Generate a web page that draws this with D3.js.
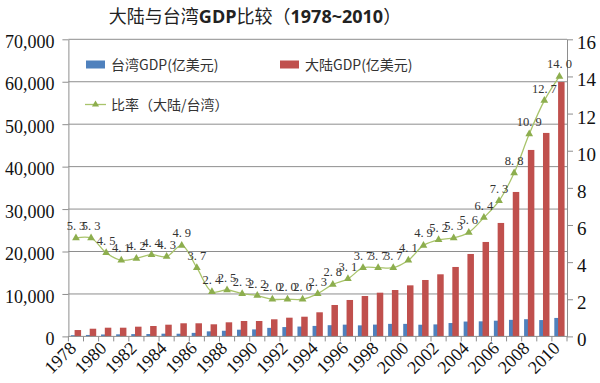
<!DOCTYPE html>
<html><head><meta charset="utf-8">
<script src="https://cdn.jsdelivr.net/npm/d3@7/dist/d3.min.js"></script>
<style>body{margin:0;background:#fff}svg{display:block}</style>
</head><body>
<svg id="c" width="600" height="383"></svg>
<script>
const years = [1978,1979,1980,1981,1982,1983,1984,1985,1986,1987,1988,1989,1990,1991,1992,1993,1994,1995,1996,1997,1998,1999,2000,2001,2002,2003,2004,2005,2006,2007,2008,2009,2010];
const taiwanGDP = [280,340,450,490,540,560,640,630,830,1190,1330,1580,1650,2010,2200,2320,2470,2640,2770,2600,2780,2950,2950,2750,2830,3150,3500,3550,3700,3900,4050,3850,4350];
const mainlandGDP = [1500,1810,2050,2050,2290,2450,2760,3090,3090,2850,3320,3630,3630,4030,4410,4640,5680,7400,8580,9520,10300,10930,12030,13290,14630,16360,19420,22250,26730,34030,43930,47940,59930];
const ratio = [5.3,5.3,4.5,4.1,4.2,4.4,4.3,4.9,3.7,2.4,2.5,2.3,2.2,2.0,2.0,2.0,2.3,2.8,3.1,3.7,3.7,3.7,4.1,4.9,5.2,5.3,5.6,6.4,7.3,8.8,10.9,12.7,14.0];
const leftTicks = [0,10000,20000,30000,40000,50000,60000,70000];
const rightTicks = [0,2,4,6,8,10,12,14,16];
const xTickLabels = ["1978","1980","1982","1984","1986","1988","1990","1992","1994","1996","1998","2000","2002","2004","2006","2008","2010"];
const seriesNames = ["台湾GDP(亿美元)","大陆GDP(亿美元)","比率（大陆/台湾）"];

const C_TW = "#4F81BD", C_CN = "#C0504D", C_LINE = "#A9C46B", C_MARK = "#8DAE4E";
const GRID = "#8e8e8e";
const SERIF = "'Liberation Serif','DejaVu Serif',serif";
const CJK = "'Noto Sans CJK SC','Noto Sans',sans-serif";

const svg = d3.select("#c");
const L = 68.4, R = 567, T = 39.3, B = 336.4;
const x = d3.scaleBand().domain(years).range([L, R]).paddingInner(0).paddingOuter(0);
const yL = d3.scaleLinear().domain([0, 70000]).range([B, T]);
const yR = d3.scaleLinear().domain([0, 16]).range([B, T]);
const bw = x.bandwidth();

// Title
const title = svg.append("text").attr("x", 255).attr("y", 23).attr("text-anchor", "middle")
  .attr("font-size", 18).attr("fill", "#222");
title.append("tspan").attr("font-family", CJK).attr("font-weight", 400).text("大陆与台湾");
title.append("tspan").attr("font-family", "'Open Sans','Liberation Sans',sans-serif").attr("font-weight", 700).text("GDP");
title.append("tspan").attr("font-family", CJK).attr("font-weight", 400).text("比较（");
title.append("tspan").attr("font-family", "'Open Sans','Liberation Sans',sans-serif").attr("font-weight", 700).text("1978~2010");
title.append("tspan").attr("font-family", CJK).attr("font-weight", 400).text("）");

// Gridlines
svg.append("g").selectAll("line").data(leftTicks.filter(v => v > 0)).join("line")
  .attr("x1", L).attr("x2", R).attr("y1", d => yL(d)).attr("y2", d => yL(d))
  .attr("stroke", GRID).attr("stroke-width", 1);

// Left axis
const gl = svg.append("g").attr("transform", `translate(${L},0)`)
  .call(d3.axisLeft(yL).tickValues(leftTicks).tickFormat(d3.format(",")).tickSize(6).tickSizeOuter(0).tickPadding(8));
gl.selectAll("path,line").attr("stroke", GRID);
gl.selectAll("text").attr("font-family", SERIF).attr("font-size", 18).attr("fill", "#111").attr("dy", "0.45em");

// Right axis
const gr = svg.append("g").attr("transform", `translate(${R},0)`)
  .call(d3.axisRight(yR).tickValues(rightTicks).tickSize(6).tickSizeOuter(0).tickPadding(4));
gr.selectAll("path,line").attr("stroke", GRID);
gr.selectAll("text").attr("font-family", SERIF).attr("font-size", 19).attr("fill", "#111").attr("dy", "0.5em");

// Bars
const barW = bw * 0.43;
svg.append("g").selectAll("rect").data(years).join("rect")
  .attr("x", (d) => x(d) + bw * 0.16).attr("width", barW)
  .attr("y", (d, i) => yL(taiwanGDP[i])).attr("height", (d, i) => B - yL(taiwanGDP[i]))
  .attr("fill", C_TW);
svg.append("g").selectAll("rect").data(years).join("rect")
  .attr("x", (d) => x(d) + bw * 0.41).attr("width", barW)
  .attr("y", (d, i) => yL(mainlandGDP[i])).attr("height", (d, i) => B - yL(mainlandGDP[i]))
  .attr("fill", C_CN);

// X axis line and ticks
svg.append("line").attr("x1", L).attr("x2", R).attr("y1", B).attr("y2", B).attr("stroke", GRID);
const bounds = years.map(d => x(d)).concat([x.range()[1]]);
svg.append("g").selectAll("line").data(bounds).join("line")
  .attr("x1", d => d).attr("x2", d => d).attr("y1", B).attr("y2", B + 5).attr("stroke", GRID);
svg.append("g").selectAll("text").data(xTickLabels).join("text")
  .attr("transform", d => `translate(${x(+d)},${B + 4}) rotate(-45)`)
  .attr("text-anchor", "end").attr("dy", "0.7em")
  .attr("font-family", SERIF).attr("font-size", 18).attr("fill", "#111")
  .text(d => d);

// Ratio line
const pts = years.map((d, i) => [x(d) + bw / 2, yR(ratio[i])]);
svg.append("path").attr("d", d3.line().curve(d3.curveCatmullRom.alpha(0.5))(pts))
  .attr("fill", "none").attr("stroke", C_LINE).attr("stroke-width", 1.3);
svg.append("g").selectAll("path").data(pts).join("path")
  .attr("transform", d => `translate(${d[0]},${d[1]})`)
  .attr("d", d3.symbol(d3.symbolTriangle, 26)())
  .attr("fill", C_MARK);

// Ratio labels
const lab = svg.append("g").selectAll("text").data(years).join("text")
  .attr("x", (d) => x(d) + bw / 2).attr("y", (d, i) => yR(ratio[i]) - 8)
  .attr("text-anchor", "middle").attr("font-family", SERIF).attr("font-size", 12.5).attr("fill", "#333");
lab.each(function (d, i) {
  const s = d3.format(".1f")(ratio[i]).split(".");
  const t = d3.select(this);
  t.append("tspan").text(s[0] + ".");
  t.append("tspan").attr("dx", 3).text(s[1]);
});

// Legend
const lg = svg.append("g").attr("font-family", CJK).attr("font-size", 14).attr("fill", "#333");
lg.append("rect").attr("x", 86).attr("y", 60.5).attr("width", 19).attr("height", 8).attr("fill", C_TW);
lg.append("text").attr("x", 111).attr("y", 70).text(seriesNames[0]);
lg.append("rect").attr("x", 280).attr("y", 60.5).attr("width", 19).attr("height", 8).attr("fill", C_CN);
lg.append("text").attr("x", 305).attr("y", 70).text(seriesNames[1]);
lg.append("line").attr("x1", 85).attr("x2", 106).attr("y1", 104.5).attr("y2", 104.5).attr("stroke", C_LINE).attr("stroke-width", 1.3);
lg.append("path").attr("transform", "translate(95.5,104.5)").attr("d", d3.symbol(d3.symbolTriangle, 22)()).attr("fill", C_MARK);
lg.append("text").attr("x", 111).attr("y", 110).text(seriesNames[2]);
</script>
</body></html>
